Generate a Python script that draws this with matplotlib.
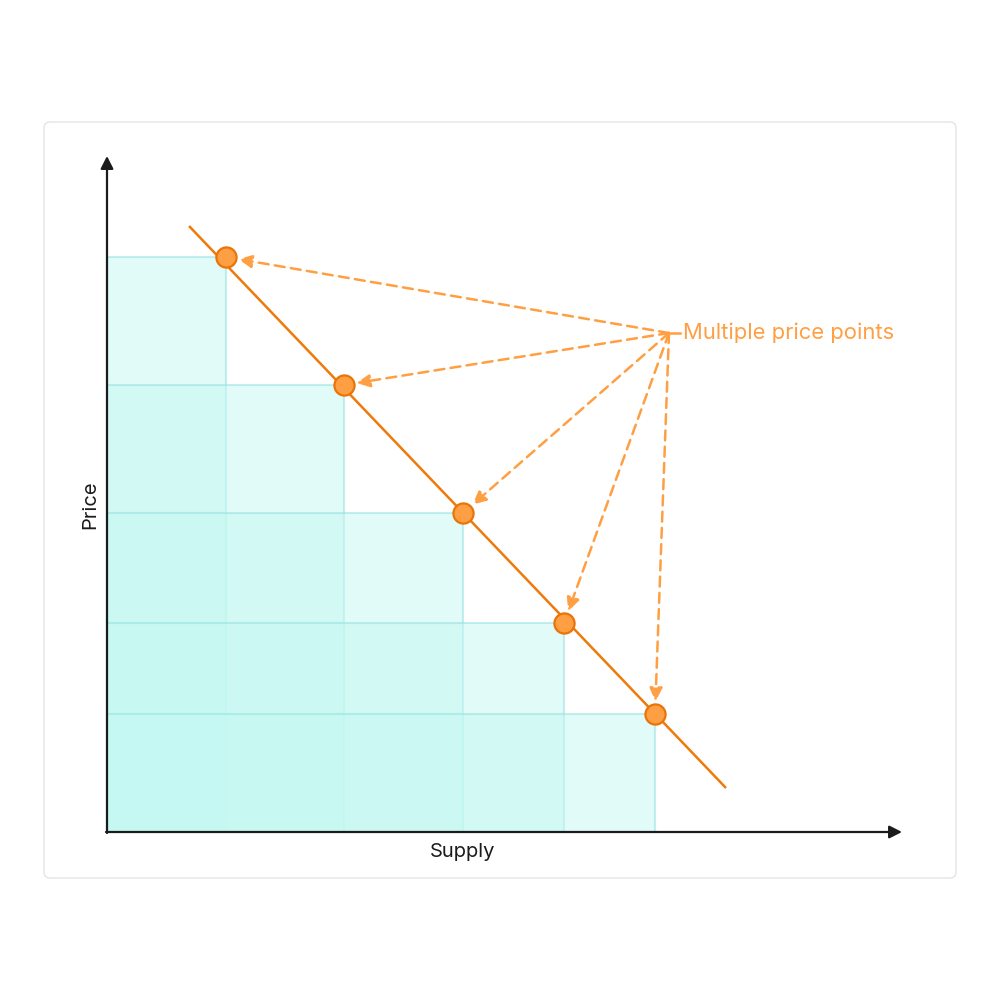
import matplotlib
matplotlib.use("Agg")
import matplotlib.pyplot as plt
from matplotlib.patches import FancyBboxPatch, Rectangle

# Data (pixel-like units measured from the origin)
supply = [119, 237, 356, 457, 548]
price = [575, 447, 319, 209, 118]
line_x = [82, 619]
line_y = [606, 44]
label_xy = (562, 499)
label_text = "Multiple price points"
x_label = "Supply"
y_label = "Price"

plt.rcParams['font.family'] = ['Inter', 'DejaVu Sans']

fig = plt.figure(figsize=(10, 10), dpi=100)
fig.patch.set_facecolor('white')

# Card background
bg = fig.add_axes([0, 0, 1, 1], zorder=-5)
bg.set_xlim(0, 1)
bg.set_ylim(0, 1)
bg.axis('off')
card = FancyBboxPatch((0.044, 0.122), 0.912, 0.756, boxstyle="round,pad=0,rounding_size=0.006",
                      facecolor='white', edgecolor='#E4E4E4', linewidth=1.0)
bg.add_patch(card)

ax = fig.add_axes([0.107, 0.168, 0.794, 0.674], zorder=1)
ax.set_xlim(0, 794)
ax.set_ylim(0, 674)
ax.axis('off')
ax.patch.set_alpha(0)

# Rectangles
for sx, py in zip(supply, price):
    ax.add_patch(Rectangle((0, 0), sx, py, facecolor=(197/255, 248/255, 242/255, 0.5),
                           edgecolor=(150/255, 225/255, 225/255, 0.55), linewidth=1.5, zorder=1))

# Axes arrows
ax.annotate('', xy=(795, 0), xytext=(-1, 0),
            arrowprops=dict(arrowstyle='-|>,head_length=0.75,head_width=0.38', color='#1B1B1B',
                            lw=1.6, shrinkA=0, shrinkB=0), zorder=5, annotation_clip=False)
ax.annotate('', xy=(0, 676), xytext=(0, -1),
            arrowprops=dict(arrowstyle='-|>,head_length=0.75,head_width=0.38', color='#1B1B1B',
                            lw=1.6, shrinkA=0, shrinkB=0), zorder=5, annotation_clip=False)

# Demand line
ax.plot(line_x, line_y, color='#EE7A0A', lw=1.8, zorder=3, solid_capstyle='butt')

# Points
ax.plot(supply, price, 'o', ms=14.5, markerfacecolor='#FF9F43', markeredgecolor='#EA7408',
        markeredgewidth=1.6, zorder=6, linestyle='none')

# Dashed arrows
orange = '#FF9F43'
for sx, py in zip(supply, price):
    ax.annotate('', xy=(sx, py), xytext=label_xy,
                arrowprops=dict(arrowstyle='-|>,head_length=0.8,head_width=0.38', color=orange,
                                lw=1.8, linestyle=(0, (4, 2.5)), shrinkA=0, shrinkB=9),
                zorder=4)
ax.plot([label_xy[0], label_xy[0] + 11], [label_xy[1], label_xy[1]], color=orange, lw=1.8, zorder=4)

ax.text(label_xy[0] + 14, label_xy[1], label_text, color=orange, fontsize=15.8,
        va='center', ha='left', zorder=7)

ax.text(356, -20, x_label, fontsize=14.5, color='#1B1B1B', ha='center', va='center')
ax.text(-17, 327, y_label, fontsize=14.5, color='#1B1B1B', ha='center', va='center', rotation=90)

fig.savefig('out.png', dpi=100, facecolor='white')
